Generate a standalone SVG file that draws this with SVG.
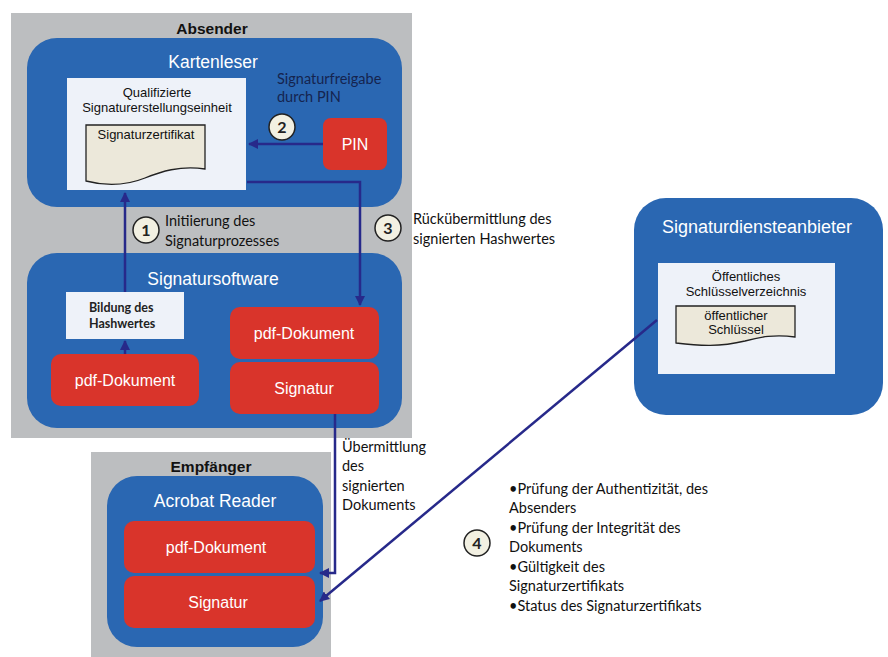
<svg xmlns="http://www.w3.org/2000/svg" width="888" height="657" viewBox="0 0 888 657">
<style>
.gray{fill:#bcbec0}
.blue{fill:#2a67b2}
.red{fill:#d9342b}
.wbox{fill:#eef2f9}
.doc{fill:#ece8da;stroke:#222;stroke-width:1.3}
.ttl{font-family:"Liberation Sans",Arial,sans-serif;font-size:17.5px;fill:#fff;text-anchor:middle}
.hdr{font-family:"Liberation Sans",Arial,sans-serif;font-size:15.5px;font-weight:bold;fill:#111;text-anchor:middle}
.rt{font-family:"Liberation Sans",Arial,sans-serif;font-size:16px;fill:#fff;text-anchor:middle}
.sm{font-family:"Liberation Sans",Arial,sans-serif;font-size:13px;fill:#111;text-anchor:middle}
.lbl{font-family:Lato,"Open Sans",sans-serif;font-size:14.5px;fill:#111}
.circ{fill:#f2f0e2;stroke:#222;stroke-width:1.5}
.num{font-family:Lato,"Open Sans",sans-serif;font-size:16px;font-weight:bold;fill:#222;text-anchor:middle}
.conn{fill:none;stroke:#27298a;stroke-width:2.5}
</style>
<defs>
<marker id="ah" markerWidth="10" markerHeight="10" refX="9" refY="5" orient="auto" markerUnits="userSpaceOnUse">
<path d="M0,0 L10,5 L0,10 Z" fill="#27298a"/>
</marker>
</defs>
<rect width="888" height="657" fill="#fff"/>

<g id="absender">
<rect class="gray" x="11" y="13" width="401" height="425"/>
<text class="hdr" x="212" y="34">Absender</text>
</g>
<g id="kartenleser">
<rect class="blue" x="27" y="38" width="375" height="169" rx="30"/>
<text class="ttl" x="213" y="68">Kartenleser</text>
<text class="lbl" x="277" y="84" style="fill:#15244f">Signaturfreigabe</text>
<text class="lbl" x="277" y="102" style="fill:#15244f">durch PIN</text>
</g>
<g id="sse">
<rect class="wbox" x="67" y="78" width="179" height="112"/>
<text class="sm" x="157" y="97">Qualifizierte</text>
<text class="sm" x="157" y="112">Signaturerstellungseinheit</text>
</g>
<g id="signaturzertifikat">
<path class="doc" d="M86,125 H205 V169 C180,165 160,172 145,178 C125,186 105,186 86,181 Z"/>
<text class="sm" x="146" y="139">Signaturzertifikat</text>
</g>
<g id="pin">
<rect class="red" x="323" y="118" width="64" height="52" rx="8"/>
<text class="rt" x="355" y="150">PIN</text>
</g>
<g id="signatursoftware">
<rect class="blue" x="27" y="253" width="375" height="175" rx="30"/>
<text class="ttl" x="213" y="285">Signatursoftware</text>
</g>
<g id="bildung">
<rect class="wbox" x="66" y="292" width="118" height="47"/>
<text class="lbl" x="89" y="312" style="font-size:12.5px;font-weight:bold;fill:#222">Bildung des</text>
<text class="lbl" x="89" y="328" style="font-size:12.5px;font-weight:bold;fill:#222">Hashwertes</text>
</g>
<g id="pdf1">
<rect class="red" x="51" y="354" width="148" height="52" rx="10"/>
<text class="rt" x="125" y="386">pdf-Dokument</text>
</g>
<g id="pdf2">
<rect class="red" x="230" y="307" width="149" height="52" rx="10"/>
<text class="rt" x="304" y="339">pdf-Dokument</text>
</g>
<g id="sig1">
<rect class="red" x="230" y="362" width="149" height="52" rx="10"/>
<text class="rt" x="304" y="394">Signatur</text>
</g>

<g id="empfaenger">
<rect class="gray" x="91" y="452" width="240" height="205"/>
<text class="hdr" x="211" y="472">Empfänger</text>
</g>
<g id="acrobat">
<rect class="blue" x="107" y="476" width="216" height="171" rx="30"/>
<text class="ttl" x="215" y="507">Acrobat Reader</text>
</g>
<g id="pdf3">
<rect class="red" x="124" y="521" width="191" height="52" rx="10"/>
<text class="rt" x="216" y="553">pdf-Dokument</text>
</g>
<g id="sig2">
<rect class="red" x="124" y="576" width="191" height="52" rx="10"/>
<text class="rt" x="218" y="608">Signatur</text>
</g>

<g id="diensteanbieter">
<rect class="blue" x="634" y="198" width="249" height="217" rx="32"/>
<text class="ttl" x="757" y="233" style="font-size:18px">Signaturdiensteanbieter</text>
</g>
<g id="verzeichnis">
<rect class="wbox" x="658" y="263" width="177" height="111"/>
<text class="sm" x="746" y="281">Öffentliches</text>
<text class="sm" x="746" y="296">Schlüsselverzeichnis</text>
</g>
<g id="schluessel">
<path class="doc" d="M676,306 H795 V337 C775,334 760,337 745,341 C720,347 700,346 676,343 Z"/>
<text class="sm" x="736" y="320">öffentlicher</text>
<text class="sm" x="736" y="334">Schlüssel</text>
</g>

<g id="connectors">
<path class="conn" d="M323,144 H249" marker-end="url(#ah)"/>
<path class="conn" d="M125,292 V193" marker-end="url(#ah)"/>
<path class="conn" d="M125,354 V341" marker-end="url(#ah)"/>
<path class="conn" d="M247,182 H360 V305" marker-end="url(#ah)"/>
<path class="conn" d="M335,414 V573 H320" marker-end="url(#ah)"/>
<path class="conn" d="M657,320 L320,601" marker-end="url(#ah)"/>
</g>

<g id="step1">
<circle class="circ" cx="146" cy="230" r="13"/>
<text class="num" x="146" y="236">1</text>
<text class="lbl" x="165" y="226">Initiierung des</text>
<text class="lbl" x="165" y="246">Signaturprozesses</text>
</g>
<g id="step2">
<circle class="circ" cx="282" cy="127" r="13"/>
<text class="num" x="282" y="133">2</text>
</g>
<g id="step3">
<circle class="circ" cx="388" cy="228" r="13"/>
<text class="num" x="388" y="234">3</text>
<text class="lbl" x="413" y="224">Rückübermittlung des</text>
<text class="lbl" x="413" y="244">signierten Hashwertes</text>
</g>
<g id="uebermittlung">
<text class="lbl" x="342" y="452">Übermittlung</text>
<text class="lbl" x="342" y="471">des</text>
<text class="lbl" x="342" y="491">signierten</text>
<text class="lbl" x="342" y="510">Dokuments</text>
</g>
<g id="step4">
<circle class="circ" cx="477" cy="543" r="13"/>
<text class="num" x="477" y="549">4</text>
<text class="lbl" x="509" y="494">•Prüfung der Authentizität, des</text>
<text class="lbl" x="509" y="513">Absenders</text>
<text class="lbl" x="509" y="533">•Prüfung der Integrität des</text>
<text class="lbl" x="509" y="552">Dokuments</text>
<text class="lbl" x="509" y="572">•Gültigkeit des</text>
<text class="lbl" x="509" y="591">Signaturzertifikats</text>
<text class="lbl" x="509" y="611">•Status des Signaturzertifikats</text>
</g>
</svg>
